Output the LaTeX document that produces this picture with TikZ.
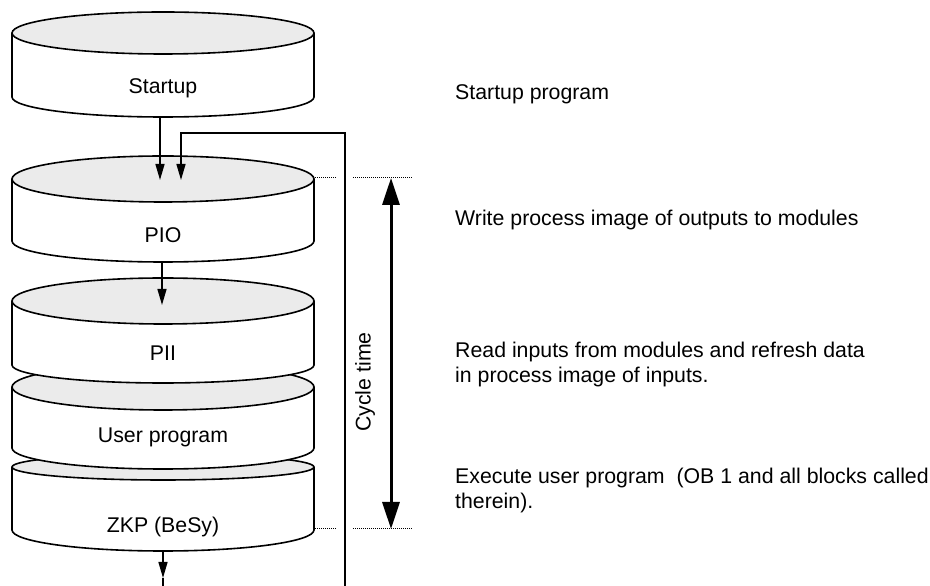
\documentclass[tikz,border=0pt]{standalone}
\usepackage{fontspec}
\setmainfont{Liberation Sans}
\usetikzlibrary{arrows.meta}

\begin{document}
\begin{tikzpicture}[x=1pt, y=1pt,
    body/.style={fill=white, draw=black, line width=1.6pt},
    lid/.style={fill=black!8, draw=black, line width=1.6pt},
    flow/.style={line width=1.4pt, -{Triangle[length=16pt, width=9pt]}},
    guide/.style={dash pattern=on 1pt off 1pt, line width=1pt},
    every node/.style={font=\fontsize{21.3}{25}\selectfont, inner sep=0pt}]
    \useasboundingbox (0,0) rectangle (930,586);

    % Drums, lowest first so the upper ones overlap
    \filldraw[body] (12,119) -- (12,56) arc[start angle=180, end angle=360, x radius=151, y radius=21] -- (314,119);
    \filldraw[lid] (163,119) ellipse[x radius=151, y radius=13];
    \node[anchor=base] (zkp) at (163,53) {ZKP (BeSy)};

    \filldraw[body] (12,199) -- (12,138) arc[start angle=180, end angle=360, x radius=151, y radius=21] -- (314,199);
    \filldraw[lid] (163,199) ellipse[x radius=151, y radius=23];
    \node[anchor=base] (user) at (163,143) {User program};

    \filldraw[body] (12,285) -- (12,221) arc[start angle=180, end angle=360, x radius=151, y radius=18] -- (314,285);
    \filldraw[lid] (163,285) ellipse[x radius=151, y radius=23];
    \node[anchor=base] (pii) at (163,225) {PII};

    \filldraw[body] (12,407) -- (12,345) arc[start angle=180, end angle=360, x radius=151, y radius=21] -- (314,407);
    \filldraw[lid] (163,407) ellipse[x radius=151, y radius=23];
    \node[anchor=base] (pio) at (163,343) {PIO};

    \filldraw[body] (12,553) -- (12,489) arc[start angle=180, end angle=360, x radius=151, y radius=20] -- (314,553);
    \filldraw[lid] (163,553) ellipse[x radius=151, y radius=21];
    \node[anchor=base] (startup) at (163,492) {Startup};

    % Arrow ends
    \coordinate (startup-out) at (160,469);
    \coordinate (pio-in) at (160,406);
    \coordinate (pio-back) at (181,406);
    \coordinate (turn) at (181,453);
    \coordinate (back) at (345,0);
    \coordinate (pio-out) at (162,324);
    \coordinate (pii-in) at (162,281);
    \coordinate (zkp-out) at (163,35);
    \coordinate (zkp-tip) at (163,8);
    \coordinate (down) at (163,0);

    % Flow
    \draw[flow] (startup-out) -- (pio-in);
    \draw[flow] (back) |- (turn) -- (pio-back);
    \draw[flow] (pio-out) -- (pii-in);
    \draw[flow] (zkp-out) -- (zkp-tip);
    \draw[line width=1.4pt] (zkp-tip) -- (down);

    % Cycle time
    \coordinate (c-top) at (391,408);
    \coordinate (c-bot) at (391,57);
    \draw[guide] (315,408) -- (336,408);
    \draw[guide] (353,408) -- (413,408);
    \draw[guide] (315,57) -- (336,57);
    \draw[guide] (353,57) -- (413,57);
    \draw[line width=3pt, {Triangle[length=27pt, width=17pt]}-{Triangle[length=27pt, width=17pt]}] (c-top) -- (c-bot);
    \node[rotate=90] (cycle) at (365,204) {Cycle time};

    % Notes
    \node[anchor=base west] (n-startup) at (455,486) {Startup program};
    \node[anchor=base west] (n-pio) at (455,360) {Write process image of outputs to modules};
    \node[anchor=north west, align=left] (n-pii) at (455,244.5) {Read inputs from modules and refresh data\\in process image of inputs.};
    \node[anchor=north west, align=left] (n-user) at (455,118.3) {Execute user program\ \ (OB 1 and all blocks called\\therein).};
\end{tikzpicture}
\end{document}
